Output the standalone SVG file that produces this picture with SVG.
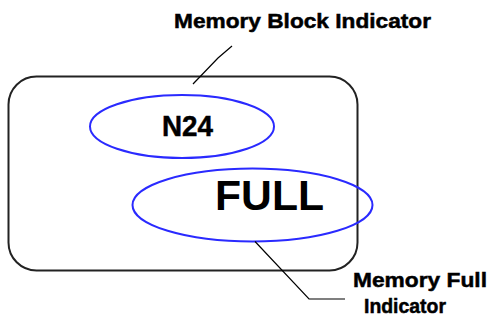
<svg xmlns="http://www.w3.org/2000/svg" width="489" height="320" viewBox="0 0 489 320">
<style>
.lbl{font-family:"Liberation Sans",Arial,sans-serif;font-weight:bold;fill:#000;}
.small{font-size:21px;stroke:#000;stroke-width:0.5px;}
.ell{fill:none;stroke:#2a2aff;stroke-width:2;}
.conn{fill:none;stroke:#000;stroke-width:1.2;}
</style>
<rect width="489" height="320" fill="#fff"/>
<g id="block">
<rect x="8.5" y="76.5" width="349" height="194" rx="28" ry="28" fill="none" stroke="#222" stroke-width="2"/>
</g>
<g id="n24">
<ellipse class="ell" cx="182" cy="126.5" rx="92" ry="31.5"/>
<text class="lbl" x="162" y="136" font-size="30" stroke="#000" stroke-width="0.5" textLength="51" lengthAdjust="spacingAndGlyphs">N24</text>
</g>
<g id="full">
<ellipse class="ell" cx="252.5" cy="205" rx="120" ry="36.5"/>
<text class="lbl" x="215" y="210" font-size="42" textLength="109" lengthAdjust="spacingAndGlyphs">FULL</text>
</g>
<g id="label-block">
<text class="lbl small" x="174" y="27.5" textLength="257" lengthAdjust="spacingAndGlyphs">Memory Block Indicator</text>
</g>
<g id="label-full">
<text class="lbl small" x="353" y="286.5" textLength="134" lengthAdjust="spacingAndGlyphs">Memory Full</text>
<text class="lbl small" x="364" y="313" textLength="82" lengthAdjust="spacingAndGlyphs">Indicator</text>
</g>
<g id="connectors">
<polyline class="conn" points="232,46 218,58 193,84"/>
<polyline class="conn" points="255,241.5 309,299 345,299"/>
</g>
</svg>
